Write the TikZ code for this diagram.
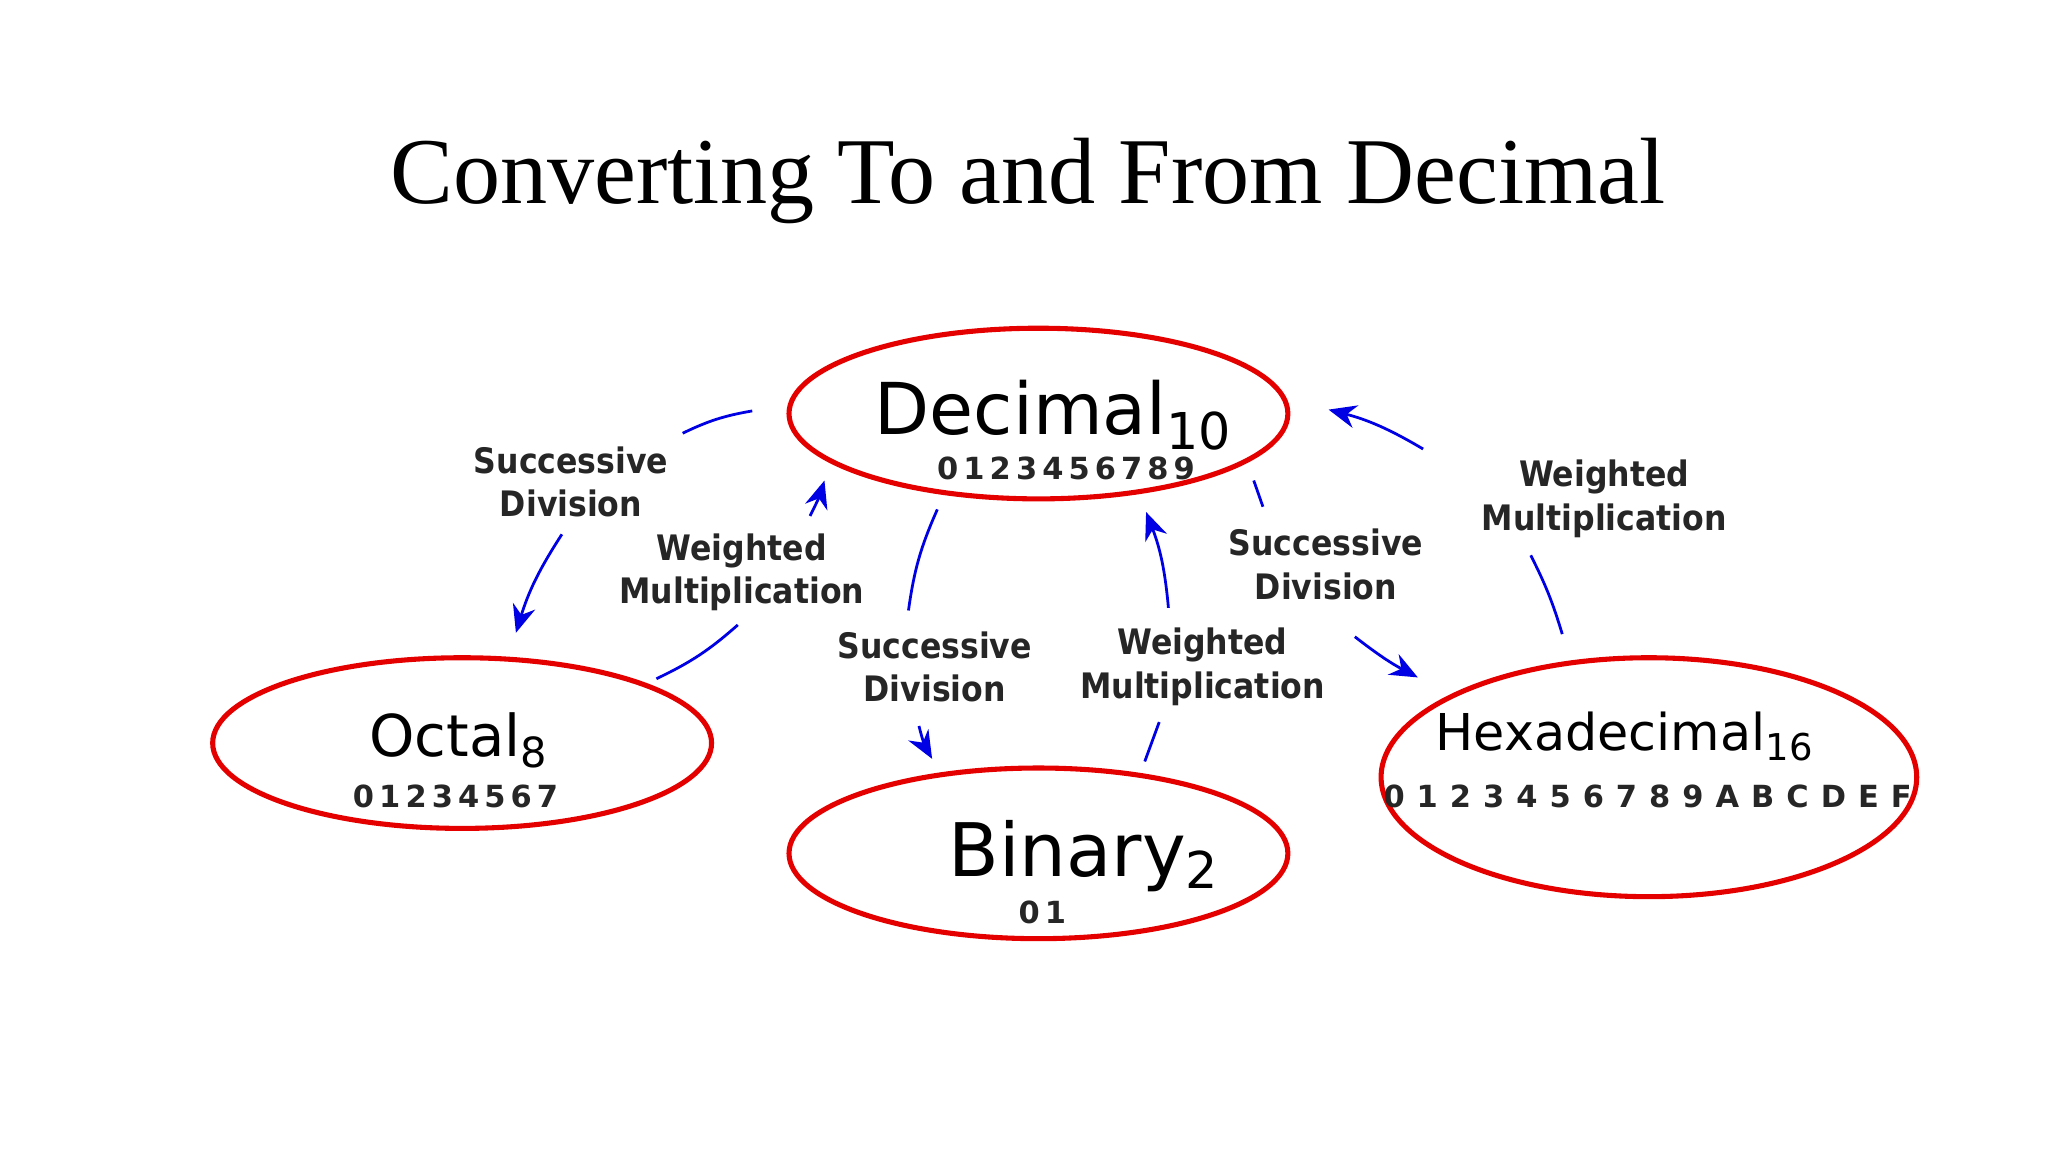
\documentclass[tikz,border=0pt]{standalone}
\usepackage{fontspec}
\setmainfont{Liberation Serif}
\newfontfamily\dv{DejaVu Sans}
\newfontfamily\dvc{DejaVu Sans Condensed}
\usetikzlibrary{arrows.meta}
\begin{document}
\begin{tikzpicture}[x=0.01cm,y=-0.01cm,
  ell/.style={draw=red!90!black,line width=1.1pt},
  conn/.style={draw=blue!90!black,line width=0.6pt},
  arr/.style={conn,-{Stealth[length=6pt,width=5pt]}},
  lab/.style={font=\dvc\bfseries\fontsize{7.6}{9.4}\selectfont,align=center,text=black!85},
  digs/.style={font=\dv\bfseries\fontsize{6.6}{8}\selectfont,text=black!85}]
\useasboundingbox (0,0) rectangle (1560,878);
\node[font=\fontsize{20.4}{24}\selectfont] (title) at (783,138) {Converting To and From Decimal};
% ellipses
\draw[ell] (791,315) ellipse [x radius=190,y radius=65];
\draw[ell] (352,566) ellipse [x radius=190,y radius=65];
\draw[ell] (791,650) ellipse [x radius=190,y radius=65];
\draw[ell] (1256,592) ellipse [x radius=204,y radius=91];
\node[font=\dv\fontsize{15.5}{18}\selectfont] (dec) at (803,316) {Decimal$_{\textsf{\fontsize{11}{11}\selectfont\dv 10}}$};
\node[digs] (decd) at (812,357) {0\,1\,2\,3\,4\,5\,6\,7\,8\,9};
\node[font=\dv\fontsize{12.5}{15}\selectfont] (oct) at (350,564) {Octal$_{\textsf{\fontsize{9}{9}\selectfont\dv 8}}$};
\node[digs] (octd) at (347,607) {0\,1\,2\,3\,4\,5\,6\,7};
\node[font=\dv\fontsize{16}{18}\selectfont] (bin) at (826,652) {Binary$_{\textsf{\fontsize{11}{11}\selectfont\dv 2}}$};
\node[digs] (bind) at (794,695) {0\,1};
\node[font=\dv\fontsize{11}{13}\selectfont] (hex) at (1238,561) {Hexadecimal$_{\textsf{\fontsize{8}{8}\selectfont\dv 16}}$};
\node[digs] (hexd) at (1255,607) {0\kern2.6pt1\kern2.6pt2\kern2.6pt3\kern2.6pt4\kern2.6pt5\kern2.6pt6\kern2.6pt7\kern2.6pt8\kern2.6pt9\kern2.6ptA\kern2.6ptB\kern2.6ptC\kern2.6ptD\kern2.6ptE\kern2.6ptF};
% labels
\node[lab] (l1) at (435,367) {Successive\\Division};
\node[lab] (l2) at (565,436) {Weighted\\Multiplication};
\node[lab] (l3) at (712,508) {Successive\\Division};
\node[lab] (l4) at (916,508) {Weighted\\Multiplication};
\node[lab] (l5) at (1010,430) {Successive\\Division};
\node[lab] (l6) at (1222,380) {Weighted\\Multiplication};
% connector endpoints
\coordinate (a1) at (573,313); \coordinate (a2) at (520,330);
\coordinate (a3) at (428,407); \coordinate (a4) at (393,482);
\coordinate (b1) at (500,517); \coordinate (b2) at (562,476);
\coordinate (b3) at (617,393); \coordinate (b4) at (628,366);
\coordinate (c1) at (714,388); \coordinate (c2) at (692,465);
\coordinate (c3) at (700,553); \coordinate (c4) at (710,578);
\coordinate (d1) at (872,580); \coordinate (d2) at (883,550);
\coordinate (d3) at (890,463); \coordinate (d4) at (873,390);
\coordinate (e1) at (955,366); \coordinate (e2) at (962,386);
\coordinate (e3) at (1032,485); \coordinate (e4) at (1080,516);
\coordinate (f1) at (1190,483); \coordinate (f2) at (1166,423);
\coordinate (f3) at (1084,342); \coordinate (f4) at (1012,312);
\draw[conn] (a1) to[bend right=8] (a2);
\draw[arr] (a3) to[bend right=8] (a4);
\draw[conn] (b1) to[bend right=8] (b2);
\draw[arr] (b3) to[bend right=5] (b4);
\draw[conn] (c1) to[bend right=8] (c2);
\draw[arr] (c3) to[bend right=8] (c4);
\draw[conn] (d1) to (d2);
\draw[arr] (d3) to[bend right=8] (d4);
\draw[conn] (e1) to (e2);
\draw[arr] (e3) to[bend right=5] (e4);
\draw[conn] (f1) to[bend right=5] (f2);
\draw[arr] (f3) to[bend right=8] (f4);
\end{tikzpicture}
\end{document}
